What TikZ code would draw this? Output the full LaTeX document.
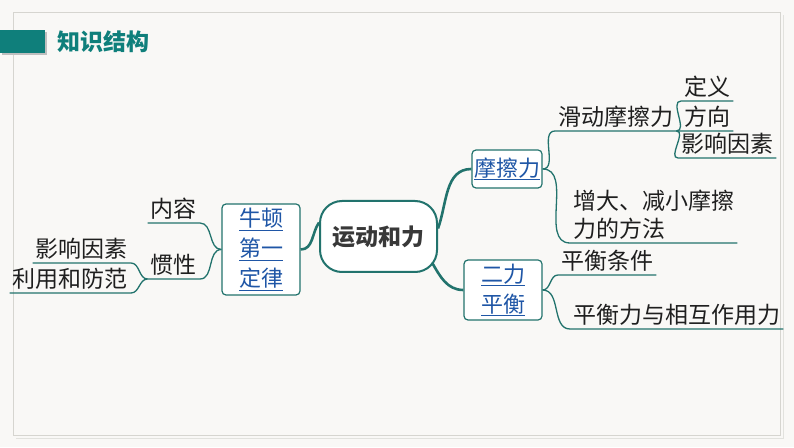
\documentclass[tikz,border=0pt]{standalone}
\usepackage{fontspec}
\setmainfont{Noto Sans CJK SC}
\usepackage{tikz}
\usetikzlibrary{positioning}
\definecolor{teal1}{HTML}{0F7F7B}
\definecolor{line1}{HTML}{22736D}
\definecolor{link}{HTML}{1F56A6}
\definecolor{paper}{HTML}{F9F8F6}
\definecolor{frame}{HTML}{D6D5D0}
\tikzstyle{topic}=[draw=line1,line width=2pt,fill=white,rounded corners=22pt,font=\bfseries\fontsize{23}{26}\selectfont,text=black!78,minimum width=117pt,minimum height=71pt]
\tikzstyle{sub}=[draw=line1,line width=1.2pt,fill=white,rounded corners=4pt,align=center,text=link,font=\fontsize{22}{30}\selectfont,inner sep=0pt]
\tikzstyle{leaf}=[inner xsep=3pt,inner ysep=0pt,text depth=5pt,font=\fontsize{23}{28}\selectfont,text=black!88]
\tikzstyle{trunk}=[line1,line width=2.6pt]
\tikzstyle{twig}=[line1,line width=1.3pt]

\begin{document}
\begin{tikzpicture}[x=1pt,y=1pt]
    \useasboundingbox (0,0) rectangle (794,447);
    \fill[paper] (0,0) rectangle (794,447);
    \draw[frame] (13,12) rectangle (780,435);
    \draw[frame!70] (16,9) -- (783,9) -- (783,432);
    
    % title
    \fill[black!25] (2,392) rectangle (47,415);
    \fill[teal1] (0,394) rectangle (45,417);
    \node[anchor=west,text=teal1,font=\bfseries\fontsize{23}{26}\selectfont] (title) at (54,405) {知识结构};
    
    \node[topic] (ydhl) at (378.5,210.5) {运动和力};
    \node[sub,minimum width=78pt,minimum height=91pt] (ndyl) at (261,197.5) {\underline{牛顿}\\\underline{第一}\\\underline{定律}};
    \node[sub,minimum width=70pt,minimum height=38pt] (mcl) at (507,278) {\underline{摩擦力}};
    \node[sub,minimum width=78pt,minimum height=60pt] (elph) at (503,157) {\underline{二力}\\\underline{平衡}};
    
    \node[leaf,anchor=south east] (nr) at (200,224) {内容};
    \node[leaf,anchor=south east] (gx) at (200,168) {惯性};
    \node[leaf,anchor=south east] (yxl) at (131,184) {影响因素};
    \node[leaf,anchor=south east] (lyff) at (131,154) {利用和防范};
    
    \node[leaf,anchor=south west] (hdmc) at (555,316) {滑动摩擦力};
    \node[leaf,anchor=south west] (dy) at (681,346) {定义};
    \node[leaf,anchor=south west] (fx) at (681,316) {方向};
    \node[leaf,anchor=south west] (yxr) at (678,289) {影响因素};
    \node[leaf,anchor=south west,align=left] (zdjx) at (570,204) {增大、减小摩擦\\力的方法};
    \node[leaf,anchor=south west] (phtj) at (558,172) {平衡条件};
    \node[leaf,anchor=south west] (xhzy) at (570,118) {平衡力与相互作用力};
    
    \draw[trunk] (ndyl.east) to[out=0,in=235] ([yshift=14pt]ydhl.west);
    \draw[trunk] ([yshift=8pt]ydhl.east) to[out=70,in=180] (mcl.west);
    \draw[trunk] ([xshift=-6pt,yshift=-26pt]ydhl.east) to[out=-60,in=180] (elph.west);
    
    \draw[twig] (ndyl.west) to[out=180,in=0] (nr.south east) -- (nr.south west);
    \draw[twig] (ndyl.west) to[out=180,in=0] (gx.south east) -- (gx.south west);
    \draw[twig] (gx.south west) to[out=180,in=0] (yxl.south east) -- (yxl.south west);
    \draw[twig] (gx.south west) to[out=180,in=0] (lyff.south east) -- (lyff.south west);
    
    \draw[twig] (mcl.east) to[out=0,in=180] (hdmc.south west) -- (hdmc.south east) -- (fx.south west) -- (fx.south east);
    \draw[twig] (hdmc.south east) to[out=0,in=180] (dy.south west) -- (dy.south east);
    \draw[twig] (hdmc.south east) to[out=0,in=180] (yxr.south west) -- (yxr.south east);
    \draw[twig] (mcl.east) to[out=0,in=180] (zdjx.south west) -- (zdjx.south east);
    
    \draw[twig] (elph.east) to[out=0,in=180] (phtj.south west) -- (phtj.south east);
    \draw[twig] (elph.east) to[out=0,in=180] (xhzy.south west) -- (xhzy.south east);
\end{tikzpicture}
\end{document}
